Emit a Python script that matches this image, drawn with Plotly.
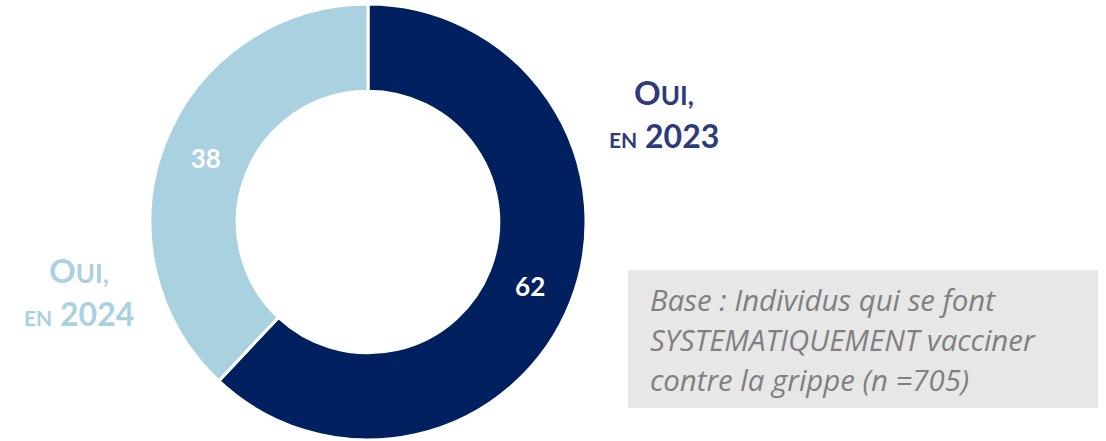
import plotly.graph_objects as go

# Share of respondents by year of vaccination (%)
categories = ["Oui, en 2023", "Oui, en 2024"]
years = ["2023", "2024"]
values = [62, 38]
slice_colors = ["#002060", "#A9D1E0"]
label_colors = ["#2F3A7A", "#A9D1E0"]
note_lines = ["Base : Individus qui se font",
              "SYSTEMATIQUEMENT vacciner",
              "contre la grippe (n =705)"]

W, H = 1106, 441
cx, cy, r = 368, 222, 218

fig = go.Figure(go.Pie(
    labels=categories,
    values=values,
    hole=0.6,
    sort=False,
    direction="clockwise",
    rotation=0,
    marker=dict(colors=slice_colors, line=dict(color="white", width=3)),
    texttemplate="<b>%{value}</b>",
    textposition="inside",
    insidetextorientation="horizontal",
    textfont=dict(family="Lato", size=26, color="white"),
    domain=dict(x=[(cx - r) / W, (cx + r) / W],
                y=[1 - (cy + r) / H, 1 - (cy - r) / H]),
    showlegend=False,
    hoverinfo="label+value",
))


def add_label(x, y_top, year, color):
    """Small-caps style 'Oui, en <year>' label on two lines."""
    fig.add_annotation(
        x=x / W, y=1 - y_top / H, xref="paper", yref="paper",
        text="<b><span style='font-size:33px'>O</span>"
             "<span style='font-size:26px'>UI,</span></b>",
        showarrow=False, xanchor="center", yanchor="middle",
        font=dict(family="Lato", size=33, color=color))
    fig.add_annotation(
        x=x / W, y=1 - (y_top + 43) / H, xref="paper", yref="paper",
        text=f"<b><span style='font-size:21px'>EN</span> {year}</b>",
        showarrow=False, xanchor="center", yanchor="middle",
        font=dict(family="Lato", size=32, color=color))


add_label(664, 92, years[0], label_colors[0])
add_label(79, 270, years[1], label_colors[1])

# Note box
fig.add_shape(type="rect", xref="paper", yref="paper",
              x0=628 / W, x1=1098 / W, y0=1 - 408 / H, y1=1 - 270 / H,
              fillcolor="#E7E7E7", line=dict(width=0), layer="below")
for i, line in enumerate(note_lines):
    fig.add_annotation(x=648 / W, y=1 - (300 + 40 * i) / H,
                       xref="paper", yref="paper",
                       xanchor="left", yanchor="middle", align="left",
                       text=f"<i>{line}</i>", showarrow=False,
                       font=dict(family="Open Sans", size=29.4, color="#808080"))

fig.update_layout(width=W, height=H, margin=dict(l=0, r=0, t=0, b=0),
                  paper_bgcolor="white", plot_bgcolor="white")
fig.write_html("out.html")
